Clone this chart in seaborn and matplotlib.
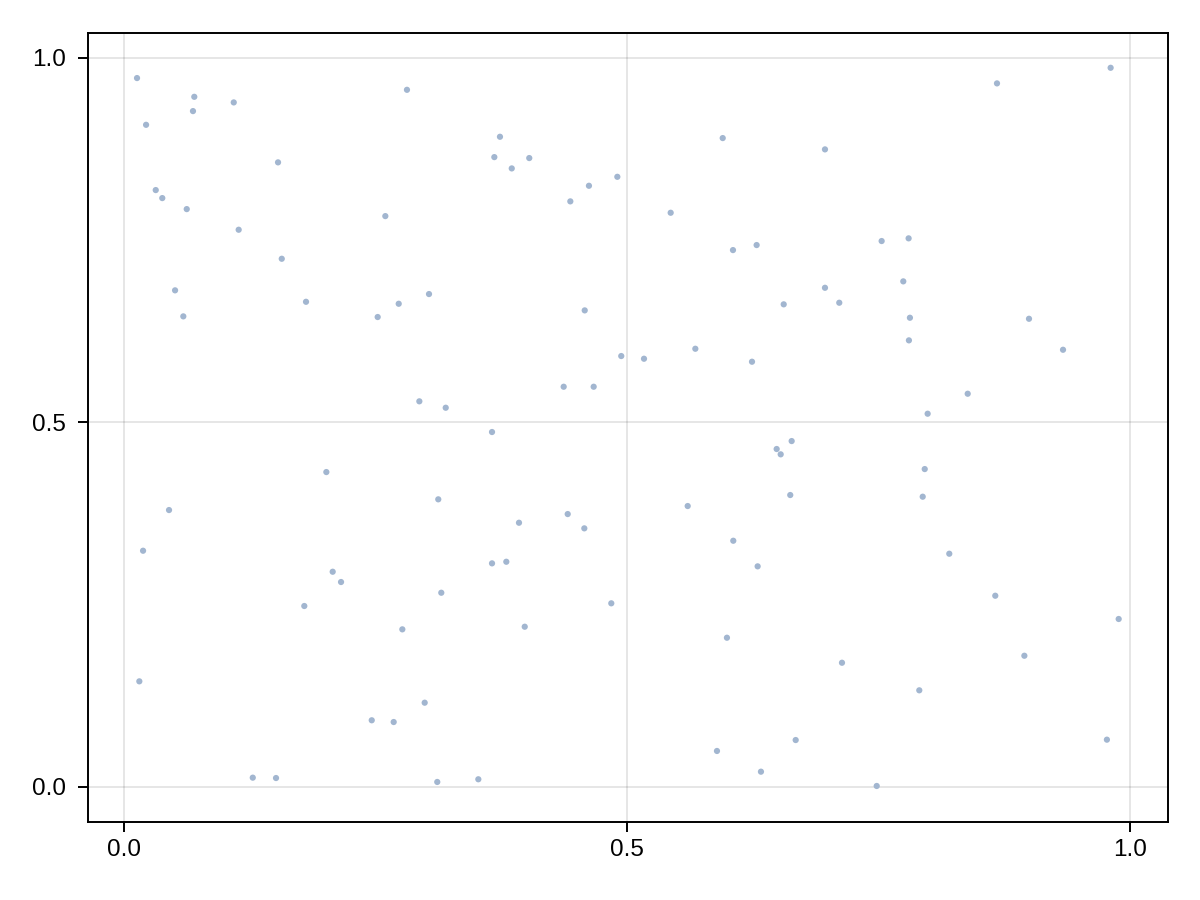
import matplotlib
matplotlib.use("Agg")
import matplotlib.pyplot as plt
import seaborn as sns
import pandas as pd

x_vals = [0.0132, 0.0701, 0.0688, 0.1093, 0.2814, 0.0222, 0.1533, 0.0318, 0.0383, 0.0626,
          0.1142, 0.2599, 0.1570, 0.0510, 0.1811, 0.0592, 0.2523, 0.2732, 0.3033, 0.2937,
          0.3199, 0.3738, 0.3682, 0.3855, 0.4029, 0.4904, 0.4622, 0.4437, 0.5951, 0.5434,
          0.6053, 0.6288, 0.4580, 0.6557, 0.4943, 0.5169, 0.5679, 0.6242, 0.4371, 0.4669,
          0.9805, 0.8676, 0.6967, 0.7530, 0.7798, 0.7745, 0.6967, 0.7109, 0.7811, 0.8994,
          0.7801, 0.9332, 0.8385, 0.7987, 0.2013, 0.3125, 0.0450, 0.0192, 0.2076, 0.2159,
          0.1794, 0.3155, 0.2768, 0.0155, 0.2990, 0.2464, 0.2682, 0.1282, 0.1513, 0.3115,
          0.3659, 0.6487, 0.6527, 0.6636, 0.6622, 0.5603, 0.4411, 0.3927, 0.4576, 0.6056,
          0.3659, 0.3801, 0.6298, 0.4844, 0.3984, 0.5993, 0.6676, 0.5894, 0.6331, 0.3523,
          0.7958, 0.7938, 0.8202, 0.8659, 0.9885, 0.7136, 0.8948, 0.7904, 0.9768, 0.7481]
y_vals = [0.9722, 0.9465, 0.9269, 0.9388, 0.9561, 0.9081, 0.8566, 0.8186, 0.8076, 0.7925,
          0.7642, 0.7829, 0.7244, 0.6811, 0.6654, 0.6454, 0.6445, 0.6627, 0.6760, 0.5289,
          0.5201, 0.8917, 0.8638, 0.8483, 0.8625, 0.8368, 0.8245, 0.8031, 0.8899, 0.7875,
          0.7363, 0.7432, 0.6536, 0.6619, 0.5910, 0.5873, 0.6010, 0.5832, 0.5489, 0.5489,
          0.9863, 0.9649, 0.8744, 0.7487, 0.7524, 0.6934, 0.6846, 0.6641, 0.6435, 0.6421,
          0.6125, 0.5996, 0.5393, 0.5119, 0.4319, 0.3945, 0.3798, 0.3240, 0.2952, 0.2811,
          0.2482, 0.2664, 0.2162, 0.1449, 0.1156, 0.0915, 0.0891, 0.0128, 0.0123, 0.0069,
          0.4868, 0.4635, 0.4562, 0.4744, 0.4004, 0.3853, 0.3743, 0.3624, 0.3547, 0.3377,
          0.3067, 0.3089, 0.3026, 0.2519, 0.2198, 0.2047, 0.0644, 0.0494, 0.0210, 0.0106,
          0.4360, 0.3981, 0.3199, 0.2623, 0.2304, 0.1704, 0.1800, 0.1326, 0.0649, 0.0014]
tick_vals = [0.0, 0.5, 1.0]
tick_labels = ["0.0", "0.5", "1.0"]

df = pd.DataFrame({"x": x_vals, "y": y_vals})

sns.set_style("white")
plt.rcParams["font.family"] = ["Liberation Sans", "DejaVu Sans"]

fig = plt.figure(figsize=(12, 9), dpi=100)
ax = fig.add_axes([88 / 1200, 78 / 900, 1080 / 1200, 789 / 900])

sns.scatterplot(data=df, x="x", y="y", ax=ax, color="#a2b6d0", s=20,
                linewidth=0, edgecolor="none", zorder=3)

ax.set_xlim(-0.0355, 1.0375)
ax.set_ylim(-0.048, 1.034)
ax.set_xticks(tick_vals)
ax.set_xticklabels(tick_labels)
ax.set_yticks(tick_vals)
ax.set_yticklabels(tick_labels)
ax.set_xlabel("")
ax.set_ylabel("")
ax.grid(True, color="black", alpha=0.1, linewidth=1.4)
ax.set_axisbelow(True)
for sp in ax.spines.values():
    sp.set_visible(True)
    sp.set_color("black")
    sp.set_linewidth(1.4)
ax.tick_params(axis="both", which="major", bottom=True, left=True,
               direction="out", length=7, width=1.4,
               color="black", labelsize=17.5, labelcolor="black")
ax.tick_params(axis="x", pad=5)
ax.tick_params(axis="y", pad=9)

fig.savefig("out.png", dpi=100)
